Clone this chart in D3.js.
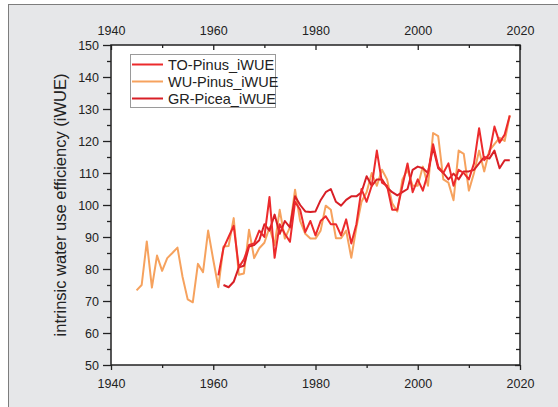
<!DOCTYPE html>
<html><head><meta charset="utf-8">
<script src="https://cdn.jsdelivr.net/npm/d3@7"></script>
<style>body{margin:0;background:#fff}svg{display:block}text{font-family:Arial,"Liberation Sans",sans-serif}</style>
</head><body><svg id="c" width="558" height="407"></svg>
<script>
const wuStart = 1945;
const wuValues = [73.3,75,88.6,74.2,84.2,79.4,83.4,85,86.7,77.5,70.5,69.6,81.6,79,92,82.9,74.3,87,87.2,95.9,78.2,78.6,92.3,83.4,86.5,88.2,93,87.5,98.5,89.5,93,104.8,95,91,89.5,89.5,92,99.8,98.5,89.6,89.6,92,83.5,93,101,104,110,106,111,108,100.5,98,108,111,106,106,112,106,122.5,121.5,108,107,101.5,117,116,104.5,110,117,110.5,117,119,121,120,128];
const toStart = 1961;
const toValues = [78,86.5,90,93.5,80.5,83,87.5,88,92,90,102.5,83.5,94,91,88.5,101,98.5,91.5,95,90.5,95,96.5,94,94,90.5,95.5,88,94,105,101,106,117,107,106,98.5,98.5,106,113,104,108,104.5,110,119,112,110,113,106,111,110,108,113,124,114,116,124.5,119.5,122,128];
const grStart = 1962;
const grValues = [75,74.3,76,80.5,81,87,87.5,89,94,92,97,91,95,93,102.7,100,98,97.8,98,101.5,104,105,101,99.8,101.6,102.7,102.7,104,109,106,108,108,105.5,104,103,104,105,111,112,111.5,110,118,111.5,110,108,109.8,108,110.5,110.5,111,113,115,114.5,117,111.5,114,114];
const seriesNames = ["TO-Pinus_iWUE","WU-Pinus_iWUE","GR-Picea_iWUE"];
const xTicks = [1940,1960,1980,2000,2020];
const yTicks = [50,60,70,80,90,100,110,120,130,140,150];
const yLabel = "intrinsic water use efficiency (iWUE)";

const colors = {to:"#ec2a2c", wu:"#f6a25e", gr:"#d81f26"};
const svg = d3.select("#c");
const L=111, R=520, T=45, B=365;
const x = d3.scaleLinear().domain([1940,2020]).range([L,R]);
const y = d3.scaleLinear().domain([50,150]).range([B,T]);

svg.append("rect").attr("x",8.5).attr("y",4.5).attr("width",560).attr("height",420)
  .attr("fill","#e6e7e9").attr("stroke","#7d7d7d").attr("stroke-width",1);
svg.append("rect").attr("x",L).attr("y",T).attr("width",R-L).attr("height",B-T).attr("fill","#fff");

const toPts = (start, vals) => vals.map((v,i)=>[start+i,v]);
const line = d3.line().x(d=>x(d[0])).y(d=>y(d[1]));
const g = svg.append("g");
g.append("path").datum(toPts(wuStart,wuValues)).attr("d",line).attr("fill","none").attr("stroke",colors.wu).attr("stroke-width",2).attr("stroke-linejoin","round");
g.append("path").datum(toPts(grStart,grValues)).attr("d",line).attr("fill","none").attr("stroke",colors.gr).attr("stroke-width",2).attr("stroke-linejoin","round");
g.append("path").datum(toPts(toStart,toValues)).attr("d",line).attr("fill","none").attr("stroke",colors.to).attr("stroke-width",2).attr("stroke-linejoin","round");

const axCol = "#222";
const fs = "12.5px";
const bAx = svg.append("g").attr("transform",`translate(0,${B})`)
  .call(d3.axisBottom(x).tickValues(xTicks).tickFormat(d3.format("d")).tickSize(5).tickPadding(9));
const bMin = svg.append("g").attr("transform",`translate(0,${B})`)
  .call(d3.axisBottom(x).tickValues([1950,1970,1990,2010]).tickFormat("").tickSize(3));
const tAx = svg.append("g").attr("transform",`translate(0,${T})`)
  .call(d3.axisTop(x).tickValues(xTicks).tickFormat(d3.format("d")).tickSize(0).tickPadding(10));
const tTk = svg.append("g").attr("transform",`translate(0,${T})`)
  .call(d3.axisBottom(x).tickValues(xTicks).tickFormat("").tickSize(5));
const tMin = svg.append("g").attr("transform",`translate(0,${T})`)
  .call(d3.axisBottom(x).tickValues([1950,1970,1990,2010]).tickFormat("").tickSize(3));
const lAx = svg.append("g").attr("transform",`translate(${L},0)`)
  .call(d3.axisLeft(y).tickValues(yTicks).tickSize(8).tickPadding(4));
const lMin = svg.append("g").attr("transform",`translate(${L},0)`)
  .call(d3.axisLeft(y).tickValues(d3.range(55,150,10)).tickFormat("").tickSize(4));
const rAx = svg.append("g").attr("transform",`translate(${R},0)`)
  .call(d3.axisLeft(y).tickValues(yTicks).tickFormat("").tickSize(5));
const rMin = svg.append("g").attr("transform",`translate(${R},0)`)
  .call(d3.axisLeft(y).tickValues(d3.range(55,150,10)).tickFormat("").tickSize(4));
[bAx,bMin,tAx,tTk,tMin,lAx,lMin,rAx,rMin].forEach(a=>{
  a.selectAll(".domain").remove();
  a.selectAll("line").attr("stroke",axCol).attr("stroke-width",1.3);
  a.selectAll("text").attr("fill","#222").style("font-size",fs).style("font-family","Arial, 'Liberation Sans', sans-serif");
});
svg.append("rect").attr("x",L).attr("y",T).attr("width",R-L).attr("height",B-T)
  .attr("fill","none").attr("stroke",axCol).attr("stroke-width",1.5);

svg.append("text").attr("transform",`translate(66,${(T+B)/2}) rotate(-90)`)
  .attr("text-anchor","middle").style("font-size","16.5px").attr("fill","#222").text(yLabel);

const lg = svg.append("g");
lg.append("rect").attr("x",130.5).attr("y",54.5).attr("width",145).attr("height",53)
  .attr("fill","#fff").attr("stroke","#9a9a9a").attr("stroke-width",1);
const legCols = [colors.to, colors.wu, colors.gr];
seriesNames.forEach((n,i)=>{
  const yy = 64.5 + i*17;
  lg.append("line").attr("x1",132).attr("x2",163).attr("y1",yy).attr("y2",yy).attr("stroke",legCols[i]).attr("stroke-width",2);
  lg.append("text").attr("x",168).attr("y",yy+5).style("font-size","14.5px").attr("fill","#222").text(n);
});
</script></body></html>
